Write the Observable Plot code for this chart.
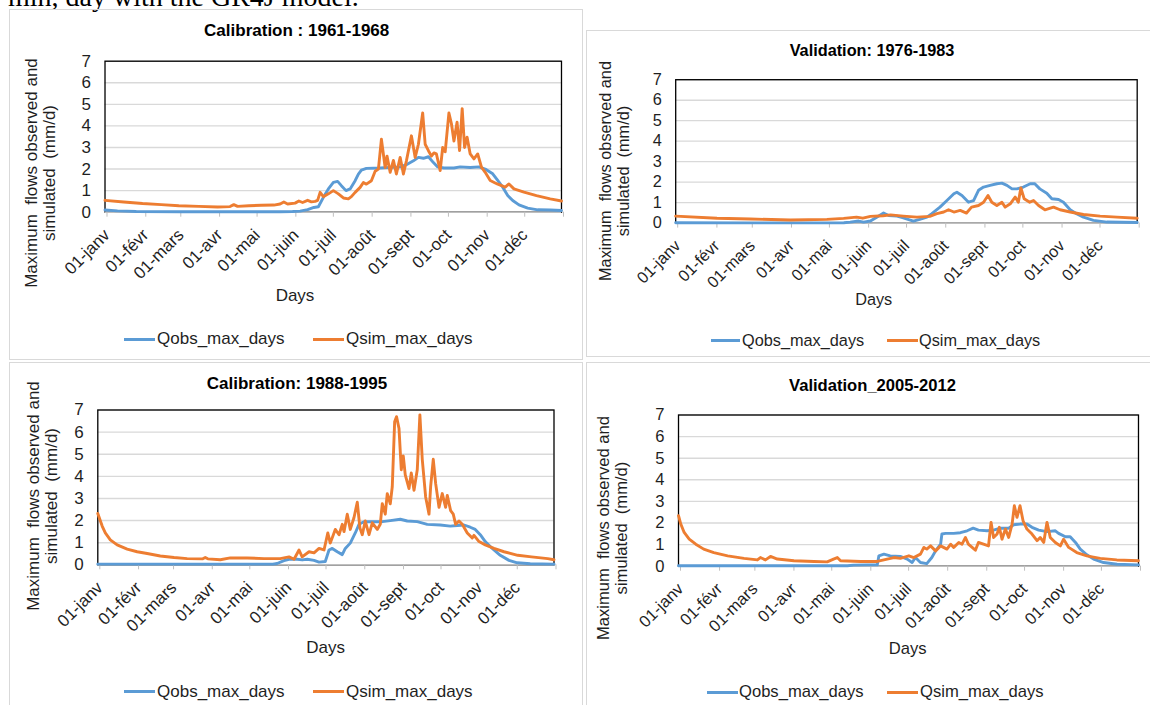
<!DOCTYPE html>
<html>
<head>
<meta charset="utf-8">
<script src="https://cdn.jsdelivr.net/npm/d3@7"></script>
<script src="https://cdn.jsdelivr.net/npm/@observablehq/plot@0.6"></script>
<style>
  body { margin: 0; background: #fff; }
  #root { position: relative; width: 1150px; height: 705px; overflow: hidden; font-family: "Liberation Sans", Arial, sans-serif; color: #1f1f1f; }
  .abs { position: absolute; white-space: nowrap; }
  .box { position: absolute; border: 1.5px solid #d9d9d9; box-sizing: border-box; }
</style>
</head>
<body>
<div id="root"></div>
<script>
// ---------- data ----------
const monthTicks = [0, 31, 59, 90, 120, 151, 181, 212, 243, 273, 304, 334, 365];
const monthLabels = ["01-janv", "01-févr", "01-mars", "01-avr", "01-mai", "01-juin", "01-juil", "01-août", "01-sept", "01-oct", "01-nov", "01-déc", ""];
const yTicks = [0, 1, 2, 3, 4, 5, 6, 7];
const seriesNames = ["Qobs_max_days", "Qsim_max_days"];
const titles = ["Calibration : 1961-1968", "Validation: 1976-1983", "Calibration: 1988-1995", "Validation_2005-2012"];
const yLabelLines = ["Maximum  flows observed and", "simulated  (mm/d)"];
const xLabel = "Days";
const pageText = "min, day with the GR4J model.";

// [day of year, value mm/d]
const calib1961Obs = [[0,0.1],[10,0.06],[25,0.03],[60,0.02],[100,0.02],[140,0.02],[150,0.03],[156,0.05],[162,0.12],[167,0.22],[170.6,0.25],[174.6,0.69],[178.6,1.08],[182.6,1.38],[186,1.43],[189,1.23],[192.7,1.0],[196,1.08],[200,1.46],[202.6,1.77],[205,1.95],[209,2.03],[220,2.05],[236,2.1],[241,2.2],[246.6,2.38],[250.6,2.54],[254.6,2.5],[258.6,2.57],[262.6,2.3],[266,2.1],[271,2.05],[279,2.05],[284,2.1],[292,2.07],[299,2.1],[304,2.0],[310,1.78],[314,1.47],[318,1.16],[322,0.77],[326,0.54],[331,0.34],[338,0.19],[346,0.11],[356,0.1],[365,0.08]];
const calib1961Sim = [[0,0.55],[15,0.47],[30,0.4],[45,0.35],[59,0.3],[75,0.27],[90,0.24],[100,0.26],[103,0.35],[106,0.27],[115,0.3],[125,0.32],[135,0.33],[140,0.38],[143,0.47],[146,0.38],[152,0.42],[155,0.52],[158,0.45],[162,0.55],[165,0.48],[168,0.5],[170,0.55],[172,0.92],[174.6,0.72],[178.6,0.85],[182.6,1.0],[186.6,0.85],[190.6,0.66],[194.6,0.62],[197,0.72],[200,0.92],[204,1.15],[206.6,1.38],[209,1.3],[213,1.46],[216,1.9],[218.6,2.0],[221,3.38],[224,2.07],[225.5,2.6],[228,1.85],[230.6,2.4],[233,1.77],[236,2.54],[238.6,1.77],[241,2.38],[245,3.54],[248,2.54],[250.6,3.15],[254,4.6],[256,3.15],[258.6,2.85],[261,2.6],[263,2.75],[265,2.7],[268,1.93],[270,3.0],[272,2.8],[275,4.6],[277,4.1],[279,3.3],[281.5,4.17],[283.5,2.86],[285.6,4.8],[287.5,3.0],[289.5,3.48],[292,2.7],[295,2.47],[298,2.7],[301,2.09],[304,1.85],[308,1.47],[313.6,1.31],[320,1.16],[323,1.31],[327,1.08],[335,0.93],[345,0.77],[356,0.62],[365,0.52]];

const valid1976Obs = [[0,0.02],[60,0.01],[120,0.01],[133,0.02],[138,0.05],[144.7,0.1],[148.6,0.05],[154,0.1],[159,0.29],[164.4,0.49],[168.4,0.37],[175,0.34],[180,0.26],[188,0.1],[193,0.18],[198.7,0.29],[202.6,0.46],[209,0.78],[214.5,1.1],[220,1.43],[222.4,1.51],[226.4,1.35],[231.6,1.02],[235.6,1.1],[239.5,1.6],[243.5,1.76],[248.7,1.84],[254,1.92],[258,1.95],[262,1.84],[266,1.67],[269.8,1.67],[275,1.76],[280.4,1.92],[284,1.92],[288,1.67],[293.5,1.46],[297.5,1.19],[302.8,1.15],[306.7,1.02],[312,0.65],[317,0.46],[322.5,0.29],[330.4,0.13],[341,0.05],[365,0.03]];
const valid1976Sim = [[0,0.34],[32.7,0.24],[59,0.2],[90.6,0.15],[119.6,0.18],[132.8,0.23],[143,0.29],[148,0.24],[154,0.33],[164,0.36],[170,0.4],[180,0.34],[190.8,0.29],[201,0.33],[206.6,0.46],[212,0.54],[215.8,0.65],[220,0.54],[225,0.62],[230,0.49],[234,0.78],[239.5,0.86],[243.5,1.02],[247,1.35],[250,1.02],[254,0.86],[258,1.02],[260.6,0.78],[264.6,0.94],[268.5,1.27],[271,1.02],[273,1.72],[275.6,1.19],[280,1.02],[283,1.1],[287,0.86],[292,0.65],[298.8,0.78],[304,0.65],[312,0.54],[322.5,0.42],[335.7,0.34],[349,0.29],[365,0.24]];

const calib1988Obs = [[0,0.03],[140,0.03],[143.5,0.06],[149,0.19],[153,0.25],[159.5,0.25],[163.5,0.22],[167.6,0.25],[173,0.2],[177,0.12],[182,0.15],[185,0.67],[187.6,0.74],[191.6,0.59],[195.6,0.46],[198,0.74],[202,0.98],[206,1.44],[209,1.83],[213,1.95],[221,1.95],[227.6,1.95],[234,2.0],[242,2.06],[247.6,1.98],[255.6,1.95],[263.6,1.83],[274,1.8],[282,1.75],[287.6,1.78],[293,1.8],[298,1.7],[302,1.6],[306,1.36],[310,1.05],[315.6,0.74],[322,0.43],[329,0.2],[335.6,0.09],[346,0.05],[365,0.03]];
const calib1988Sim = [[0,2.32],[1.6,2.06],[3.5,1.75],[6,1.44],[10,1.13],[15.5,0.9],[23.5,0.71],[31.5,0.59],[39.5,0.51],[50,0.4],[61,0.33],[71.5,0.28],[84,0.27],[86,0.33],[88,0.27],[98,0.23],[106,0.31],[119.5,0.31],[133,0.28],[146,0.28],[153,0.36],[157,0.25],[161,0.67],[163.5,0.36],[169,0.59],[173,0.54],[177,0.74],[181,0.67],[184,1.44],[186,0.98],[190,1.6],[193,1.36],[195.6,1.83],[197,1.5],[199.6,2.29],[202,1.6],[205,2.14],[207.6,2.83],[209.7,1.67],[211.6,1.36],[214,1.98],[217,1.36],[219.6,1.9],[223.6,1.6],[226,1.83],[227.6,2.76],[230,2.29],[231.6,3.22],[234,2.76],[235.6,3.53],[237.5,6.47],[239,6.7],[241,6.16],[242.8,4.3],[244.4,4.92],[246,4.07],[249,3.45],[250.8,4.15],[253,3.37],[255.6,4.3],[257.7,6.78],[259.6,4.77],[262.3,3.07],[265,2.29],[266.3,3.53],[268.4,4.77],[270.3,3.68],[273,2.6],[275.6,3.22],[278.3,2.6],[279.6,3.14],[282.3,2.45],[284.4,2.29],[286.3,1.83],[289,1.98],[291.6,1.83],[295.6,1.44],[299.6,1.21],[301,1.33],[305,1.05],[310,0.9],[317,0.74],[325,0.59],[336,0.43],[347,0.36],[360,0.28],[365,0.23]];

const valid2005Obs = [[0,0.02],[134,0.02],[139,0.05],[150,0.06],[157.7,0.06],[159,0.48],[163,0.56],[168,0.48],[176,0.45],[181.5,0.33],[185.4,0.17],[188,0.4],[192,0.17],[197,0.12],[201,0.4],[204,0.71],[208,1.02],[209,1.49],[212,1.52],[218.4,1.52],[223.7,1.55],[229,1.64],[233.8,1.76],[238,1.67],[244.8,1.64],[250,1.67],[255.4,1.76],[262,1.76],[266,1.92],[271,1.95],[276.5,1.95],[280.5,1.8],[285.8,1.67],[292.4,1.6],[299,1.64],[301.6,1.52],[307,1.36],[310.8,1.36],[315,1.1],[318.8,0.79],[324,0.53],[329.4,0.33],[337.3,0.17],[348,0.09],[365,0.06]];
const valid2005Sim = [[0,2.34],[1.8,1.95],[4.5,1.56],[8.5,1.25],[13.7,1.02],[20,0.79],[28,0.63],[39,0.48],[52,0.36],[62.6,0.29],[65,0.4],[69,0.29],[73,0.45],[78.4,0.33],[91.6,0.25],[107.5,0.22],[118,0.2],[123,0.33],[126,0.4],[128.6,0.25],[144.5,0.22],[157.7,0.22],[165.6,0.33],[171,0.4],[176,0.36],[182.8,0.48],[186.7,0.4],[192,0.56],[194.7,0.87],[197,0.79],[200,0.94],[204,0.71],[208,0.94],[213,0.79],[216,1.02],[218.4,0.87],[222.4,1.1],[225,1.02],[227.7,1.33],[230,1.02],[233,0.87],[235.6,0.74],[238,1.1],[242,1.02],[246,0.94],[248,2.03],[250,1.33],[252.8,1.49],[254.6,1.8],[256.7,1.25],[259.4,1.72],[262,1.33],[264.7,1.95],[266.5,2.8],[268.6,2.26],[271,2.8],[273.4,2.1],[276.5,1.72],[280.5,1.49],[284.5,1.18],[287,1.33],[289.8,1.1],[292.4,2.03],[295,1.33],[299,1.1],[303,0.94],[305.6,1.25],[309.6,0.87],[316,0.63],[324,0.48],[334.6,0.36],[347.8,0.29],[365,0.25]];

// ---------- layout / style ----------
const colors = ["#5B9BD5", "#ED7D31"];
const panels = [
  {title: titles[0], obs: calib1961Obs, sim: calib1961Sim, box: [9, 9, 583, 360], plot: [104.5, 60.7, 561, 211.7], fs: 17,
   titleAt: [296.7, 31], ylabAt: [41, 172.5], daysAt: [295, 296], legY: 339, legObs: [124, 155, 157], legSim: [312.6, 344, 346]},
  {title: titles[1], obs: valid1976Obs, sim: valid1976Sim, box: [586, 30, 1152, 357], plot: [675.2, 79.2, 1136.7, 222.6], fs: 16.3,
   titleAt: [872, 50], ylabAt: [613.6, 171], daysAt: [873.7, 299], legY: 340, legObs: [711, 740, 742], legSim: [887, 918, 919]},
  {title: titles[2], obs: calib1988Obs, sim: calib1988Sim, box: [9, 362, 583, 712], plot: [97.3, 409.5, 553.5, 564.3], fs: 17,
   titleAt: [297, 384], ylabAt: [43.2, 495.5], daysAt: [325.6, 648], legY: 691.7, legObs: [124, 155, 157], legSim: [312.6, 344, 346]},
  {title: titles[3], obs: valid2005Obs, sim: valid2005Sim, box: [586, 362, 1152, 712], plot: [678, 414.5, 1138, 565.7], fs: 16.6,
   titleAt: [872.5, 386], ylabAt: [613.2, 527.5], daysAt: [907.7, 649], legY: 692, legObs: [707, 738, 739], legSim: [887, 918, 920]}
];

const root = document.getElementById("root");
function addDiv(cls, css, html) {
  const d = document.createElement("div");
  d.className = cls;
  d.style.cssText = css;
  d.innerHTML = html;
  root.appendChild(d);
  return d;
}

// page text (cut off at the top edge, as in the reference)
addDiv("abs", "left:8px;top:-17px;font-family:'Liberation Serif','Times New Roman',serif;font-size:28px;line-height:28px;color:#000;", pageText);

const labelOf = new Map(monthTicks.map((t, i) => [t, monthLabels[i]]));

panels.forEach((p) => {
  const [bx0, by0, bx1, by1] = p.box;
  addDiv("box", `left:${bx0}px;top:${by0}px;width:${bx1 - bx0}px;height:${by1 - by0}px;`, "");

  const [x0, y0, x1, y1] = p.plot;
  const mL = x0 - bx0, mT = y0 - by0, mR = 20, mB = 80;
  const width = (x1 - bx0) + mR;
  const height = (y1 - by0) + mB;

  const chart = Plot.plot({
    width, height,
    marginLeft: mL, marginTop: mT, marginRight: mR, marginBottom: mB,
    x: {domain: [0, 365]},
    y: {domain: [0, 7]},
    style: {fontFamily: "'Liberation Sans', Arial, sans-serif", fontSize: p.fs + "px", color: "#1f1f1f", background: "transparent", overflow: "visible"},
    marks: [
      Plot.gridY(yTicks, {stroke: "#d9d9d9", strokeOpacity: 1, strokeWidth: 1.4}),
      Plot.frame({stroke: "#000", strokeWidth: 1.3}),
      Plot.ruleY([0], {stroke: "#bfbfbf", strokeWidth: 1.6}),
      Plot.axisY(yTicks, {tickSize: 0, tickPadding: 14, label: null, fill: "#1f1f1f"}),
      Plot.axisX(monthTicks, {tickSize: 5, tickPadding: 15, tickRotate: -45, dx: 2, tickFormat: (d) => labelOf.get(d), label: null, stroke: "#bfbfbf", strokeOpacity: 1, fill: "#1f1f1f"}),
      Plot.line(p.obs, {x: (d) => d[0], y: (d) => d[1], stroke: colors[0], strokeWidth: 2.9, strokeLinejoin: "round"}),
      Plot.line(p.sim, {x: (d) => d[0], y: (d) => d[1], stroke: colors[1], strokeWidth: 2.9, strokeLinejoin: "round"})
    ]
  });
  chart.style.position = "absolute";
  chart.style.left = bx0 + "px";
  chart.style.top = by0 + "px";
  root.appendChild(chart);

  // title
  addDiv("abs", `left:${p.titleAt[0]}px;top:${p.titleAt[1]}px;transform:translate(-50%,-50%);font-weight:bold;font-size:${p.fs}px;color:#000;`, p.title);
  // y label
  addDiv("abs", `left:${p.ylabAt[0]}px;top:${p.ylabAt[1]}px;transform:translate(-50%,-50%) rotate(-90deg);text-align:center;font-size:${p.fs}px;line-height:18px;white-space:pre;`, yLabelLines.join("<br>"));
  // x label
  addDiv("abs", `left:${p.daysAt[0]}px;top:${p.daysAt[1]}px;transform:translate(-50%,-50%);font-size:${p.fs}px;`, xLabel);
  // legend
  [[p.legObs, 0], [p.legSim, 1]].forEach(([l, i]) => {
    addDiv("abs", `left:${l[0]}px;top:${p.legY - 1.5}px;width:${l[1] - l[0]}px;height:3px;background:${colors[i]};`, "");
    addDiv("abs", `left:${l[2]}px;top:${p.legY}px;transform:translateY(-50%);font-size:${p.fs}px;`, seriesNames[i]);
  });
});
</script>
</body>
</html>
